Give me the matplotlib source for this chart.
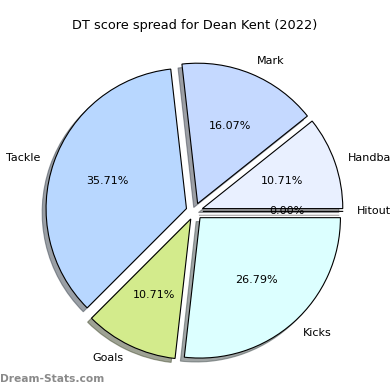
#!/usr/bin/env python3
"""DT score spread pie chart"""

import matplotlib
matplotlib.use('Agg')
import matplotlib.pyplot as plt

# data
categories = ['Handball', 'Mark', 'Tackle', 'Goals', 'Kicks', 'Hitout']
counts = [6, 9, 20, 6, 15, 0]
colours = ['#e9f0ff', '#c5d9ff', '#b8d7ff', '#d3eb8c', '#dcffff', '#ffe0e0']
explode = [0.06] * len(categories)

fig = plt.figure(figsize=(3.9, 3.9), dpi=100)
ax = fig.add_axes([0.0485, 0.008, 0.9, 0.9])

ax.pie(counts, labels=categories, colors=colours, explode=explode,
       autopct='%1.2f%%', shadow=True, startangle=0,
       wedgeprops={'edgecolor': 'black', 'linewidth': 0.8},
       textprops={'fontsize': 8})
ax.set_aspect('equal')

fig.text(0.5, 0.935, 'DT score spread for Dean Kent (2022)', ha='center',
         va='center', fontsize=9.3)
fig.text(0.0, 0.027, 'Dream-Stats.com', ha='left', va='center',
         fontsize=7.7, fontweight='bold', color='#8a8a8a')

plt.savefig('out.png', dpi=100)
plt.close()
